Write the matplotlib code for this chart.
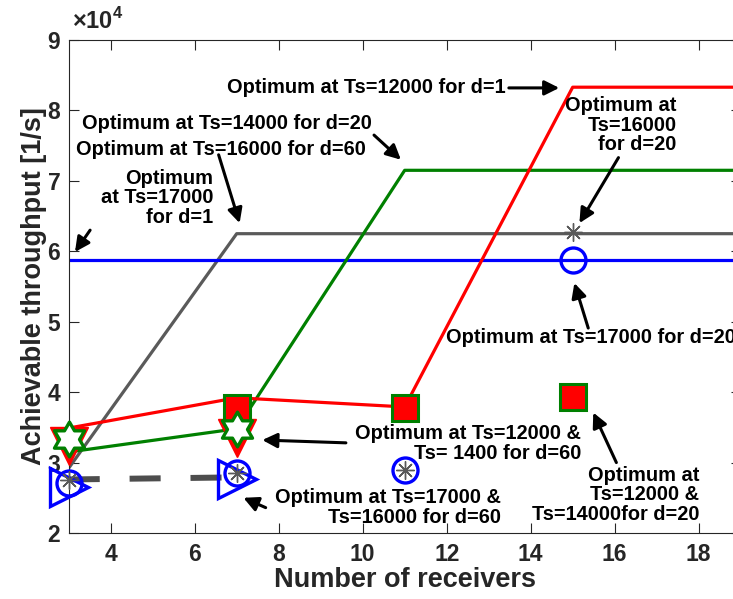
import matplotlib
matplotlib.use('Agg')
import matplotlib.pyplot as plt
from matplotlib.path import Path

plt.rcParams['font.family'] = ['Liberation Sans', 'DejaVu Sans']
plt.rcParams['font.weight'] = 'bold'
plt.rcParams['mathtext.fontset'] = 'custom'
plt.rcParams['mathtext.rm'] = 'Liberation Sans'
plt.rcParams['mathtext.bf'] = 'Liberation Sans:bold'

# number of receivers and achievable throughput [1/s]
receivers = [3, 7, 11, 15, 19]
thr_red = [34900, 39200, 37900, 83300, 83300]
thr_green = [31500, 34800, 71500, 71500, 71500]
thr_gray = [29200, 62500, 62500, 62500, 62500]
thr_blue = [58800, 58800, 58800, 58800, 58800]
dash_x = [3, 7]
dash_y = [27600, 27900]

# optimum markers
tri_down_x = [3, 7]
tri_down_y = [32300, 33500]
hex_x = [3, 7]
hex_y = [33300, 34700]
square_x = [7, 11, 15]
square_y = [37700, 37700, 39300]
tri_right_x = [3, 7]
tri_right_y = [26600, 27600]
circle_x = [3, 7, 11, 15]
circle_y = [27100, 28500, 28900, 58750]
star_x = [3, 7, 11, 15]
star_y = [27500, 28500, 28900, 62700]

SCALE = 1e4
fig = plt.figure(figsize=(7.33, 5.99), dpi=100)
ax = fig.add_axes([0.0937, 0.1102, 0.9168, 0.8230])

def sc(v):
    return [y / SCALE for y in v]

ax.plot(receivers, sc(thr_gray), color='#5a5a5a', lw=2.3)
ax.plot(receivers, sc(thr_blue), color='#0000ff', lw=2.3)
ax.plot(receivers, sc(thr_green), color='#008000', lw=2.3)
ax.plot(receivers, sc(thr_red), color='#ff0000', lw=2.3)
ax.plot(dash_x, sc(dash_y), color='#4d4d4d', lw=4.3, linestyle=(0, (5.2, 5)))

hexagram = Path.unit_regular_star(6, innerCircle=0.577)

mk = dict(ls='none', clip_on=False)
ax.plot(tri_down_x, sc(tri_down_y), marker='v', color='#ff0000', ms=27, mew=1, zorder=3, **mk)
ax.plot(square_x, sc(square_y), marker='s', mfc='#ff0000', mec='#008000', ms=18.5, mew=2.2, zorder=3, **mk)
ax.plot(hex_x, sc(hex_y), marker=hexagram, mfc='white', mec='#008000', ms=25, mew=2.4, zorder=4, **mk)
ax.plot(circle_x, sc(circle_y), marker='o', mfc='none', mec='#0000ff', ms=18, mew=2.4, zorder=4, **mk)
ax.plot(tri_right_x, sc(tri_right_y), marker='>', mfc='none', mec='#0000ff', ms=27, mew=2.4, zorder=4, **mk)
ax.plot(star_x, sc(star_y), marker=(8, 2, 0), color='#595959', ms=13, mew=1, zorder=5, **mk)

ax.set_xlim(3, 19)
ax.set_ylim(2, 9)
ax.set_xticks(range(4, 19, 2))
ax.set_yticks(range(2, 10))
ax.tick_params(direction='in', top=True, right=True, length=7, width=0.8,
               labelsize=16.5, colors='#262626', pad=6)
ax.tick_params(axis='x', pad=7)
for s in ax.spines.values():
    s.set_color('#262626')
    s.set_linewidth(0.8)

ax.set_xlabel('Number of receivers', fontsize=19.5, fontweight='bold', color='#262626')
ax.set_ylabel('Achievable throughput [1/s]', fontsize=19.5, fontweight='bold', color='#262626')
ax.xaxis.set_label_coords(0.5, -0.07)
ax.yaxis.set_label_coords(-0.033, 0.5)
ax.text(0.005, 1.012, r'$\times\mathbf{10}^{\mathbf{4}}$', transform=ax.transAxes,
        fontsize=17, color='#262626', ha='left', va='bottom')

arrow = dict(arrowstyle='-|>', color='black', lw=2.2, mutation_scale=22, shrinkA=0, shrinkB=0)
fs = 14.4

def note(txt, xy, ha='left', va='center'):
    ax.annotate(txt, xy=xy, xytext=xy, ha=ha, va=va, fontsize=fs, fontweight='bold',
                multialignment=ha, linespacing=1.05, annotation_clip=False)

def arr(start, end):
    ax.annotate('', xy=end, xytext=start, arrowprops=arrow, annotation_clip=False)

note('Optimum at Ts=12000 for d=1', (13.41, 8.32), ha='right')
arr((13.48, 8.32), (14.68, 8.32))

note('Optimum at Ts=14000 for d=20', (3.32, 7.82))
arr((10.27, 7.65), (10.91, 7.30))
note('Optimum at Ts=16000 for d=60', (3.17, 7.44))
arr((6.57, 7.37), (7.07, 6.40))

note('Optimum\nat Ts=17000\nfor d=1', (6.44, 6.76), ha='right')
arr((3.51, 6.30), (3.15, 5.99))

note('Optimum at\nTs=16000\n  for d=20', (17.47, 7.79), ha='right')
arr((16.09, 7.33), (15.16, 6.40))

note('Optimum at Ts=17000 for d=20', (11.98, 4.77))
arr((15.37, 4.91), (15.04, 5.55))

note('Optimum at Ts=12000 &\nTs= 1400 for d=60', (15.20, 3.27), ha='right')
arr((9.60, 3.28), (7.61, 3.32))

note('Optimum at Ts=17000 &\nTs=16000 for d=60', (13.29, 2.36), ha='right')
arr((7.69, 2.36), (7.16, 2.50))

note('Optimum at\nTs=12000 &\nTs=14000for d=20', (18.02, 2.54), ha='right')
arr((16.04, 3.00), (15.49, 3.71))

fig.savefig('out.png', dpi=100)
